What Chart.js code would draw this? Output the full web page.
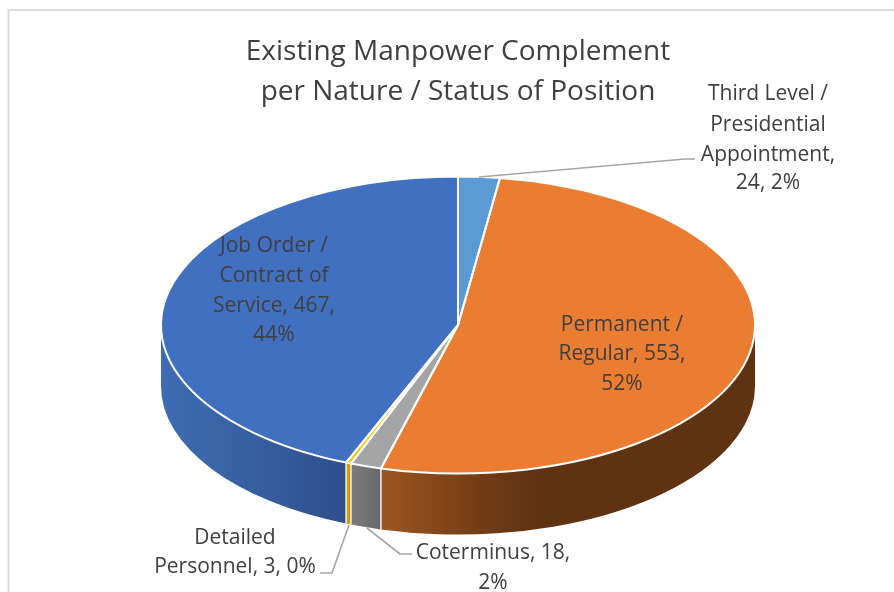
<!DOCTYPE html>
<html>
<head>
<meta charset="utf-8">
<script src="https://cdn.jsdelivr.net/npm/chart.js@4"></script>
<style>html,body{margin:0;padding:0;background:#fff;overflow:hidden}canvas{display:block}</style>
</head>
<body>
<canvas id="c" width="894" height="592"></canvas>
<script>
const titleLines = ['Existing Manpower Complement', 'per Nature / Status of Position'];
const categories = ['Third Level / Presidential Appointment', 'Permanent / Regular', 'Coterminus', 'Detailed Personnel', 'Job Order / Contract of Service'];
const values = [24, 553, 18, 3, 467];
const percents = ['2%', '52%', '2%', '0%', '44%'];
const labelLines = [
  ['Third Level /', 'Presidential', 'Appointment,', '24, 2%'],
  ['Permanent /', 'Regular, 553,', '52%'],
  ['Coterminus, 18,', '2%'],
  ['Detailed', 'Personnel, 3, 0%'],
  ['Job Order /', 'Contract of', 'Service, 467,', '44%']
];
const topColors = ['#5b9bd5', '#ea7d32', '#a5a5a5', '#ffc000', '#4270c0'];
const wallStops = [
  [[0, '#44739f'], [1, '#44739f']],
  [[0, '#9c5520'], [0.3, '#6e3915'], [0.42, '#5f3212'], [1, '#5f3212']],
  [[0, '#7c7c7c'], [1, '#686868']],
  [[0, '#d9a300'], [1, '#c99700']],
  [[0, '#3e6cb4'], [0.5, '#365f9f'], [1, '#2e4f8c']]
];
const labelAnchors = [
  {x: 768, y: [94, 125, 155, 183]},
  {x: 622, y: [325, 354, 384]},
  {x: 493, y: [553, 583]},
  {x: 235, y: [538, 567]},
  {x: 274, y: [246, 276, 306, 335]}
];
const leaderLines = [
  [[479, 177], [685, 159], [695, 159]],
  [[367, 528], [400, 554], [412, 554]],
  [[349, 525], [332, 573], [320, 573]]
];
const CX = 458, CY = 325, TILT = 0.5, DEPTH = 61, RADIUS = 297;
const FONT = '"Open Sans", Lato, sans-serif';

const pie3d = {
  id: 'pie3d',
  beforeDraw(chart) {
    const ctx = chart.ctx;
    ctx.save();
    ctx.strokeStyle = '#d9d9d9';
    ctx.lineWidth = 2;
    ctx.beginPath();
    ctx.moveTo(8.5, 592);
    ctx.lineTo(8.5, 10);
    ctx.lineTo(894, 10);
    ctx.stroke();
    ctx.restore();
  },
  beforeDatasetsDraw(chart) {
    const ctx = chart.ctx;
    const arcs = chart.getDatasetMeta(0).data;
    ctx.save();
    arcs.forEach((el, i) => {
      const a1 = Math.max(el.startAngle, 0), a2 = Math.min(el.endAngle, Math.PI);
      if (a2 <= a1) return;
      const rx = el.outerRadius, ry = rx * TILT;
      const x1 = CX + rx * Math.cos(a1), x2 = CX + rx * Math.cos(a2);
      const g = ctx.createLinearGradient(Math.min(x1, x2), 0, Math.max(x1, x2), 0);
      wallStops[i].forEach(s => g.addColorStop(s[0], s[1]));
      ctx.fillStyle = g;
      ctx.beginPath();
      ctx.ellipse(CX, CY, rx, ry, 0, a1, a2);
      ctx.ellipse(CX, CY + DEPTH, rx, ry, 0, a2, a1, true);
      ctx.closePath();
      ctx.fill();
    });
    ctx.strokeStyle = '#f2f2f2';
    ctx.lineWidth = 1.5;
    arcs.forEach(el => {
      const a = el.endAngle;
      if (a <= 0 || a >= Math.PI) return;
      const rx = el.outerRadius, ry = rx * TILT;
      const x = CX + rx * Math.cos(a), y = CY + ry * Math.sin(a);
      ctx.beginPath();
      ctx.moveTo(x, y);
      ctx.lineTo(x, y + DEPTH);
      ctx.stroke();
    });
    ctx.restore();
    const el0 = arcs[0];
    ctx.save();
    ctx.translate(CX, CY);
    ctx.scale(1, TILT);
    ctx.translate(-el0.x, -el0.y);
  },
  afterDatasetsDraw(chart) {
    const ctx = chart.ctx;
    ctx.restore();
    const arcs = chart.getDatasetMeta(0).data;
    ctx.save();
    ctx.strokeStyle = '#ffffff';
    ctx.lineWidth = 2;
    ctx.lineJoin = 'round';
    arcs.forEach(el => {
      const rx = el.outerRadius, ry = rx * TILT;
      ctx.beginPath();
      ctx.moveTo(CX, CY);
      ctx.ellipse(CX, CY, rx, ry, 0, el.startAngle, el.endAngle);
      ctx.closePath();
      ctx.stroke();
    });
    ctx.strokeStyle = '#a6a6a6';
    ctx.lineWidth = 1.6;
    leaderLines.forEach(l => {
      ctx.beginPath();
      l.forEach((p, k) => k ? ctx.lineTo(p[0], p[1]) : ctx.moveTo(p[0], p[1]));
      ctx.stroke();
    });
    ctx.fillStyle = '#404040';
    ctx.font = '21px ' + FONT;
    ctx.textAlign = 'center';
    ctx.textBaseline = 'middle';
    labelLines.forEach((lines, i) => {
      lines.forEach((t, k) => ctx.fillText(t, labelAnchors[i].x, labelAnchors[i].y[k]));
    });
    ctx.restore();
  }
};

new Chart(document.getElementById('c'), {
  type: 'pie',
  data: {
    labels: categories,
    datasets: [{
      data: values,
      backgroundColor: topColors,
      borderWidth: 0,
      clip: false
    }]
  },
  options: {
    responsive: false,
    animation: false,
    radius: RADIUS,
    layout: {padding: {left: 22, right: 0, top: 20, bottom: 0}},
    plugins: {
      legend: {display: false},
      tooltip: {enabled: false},
      title: {
        display: true,
        text: titleLines,
        color: '#404040',
        font: {family: FONT, size: 28, weight: 'normal', lineHeight: 1.43},
        padding: {top: 12, bottom: 4}
      }
    }
  },
  plugins: [pie3d]
});
</script>
</body>
</html>
